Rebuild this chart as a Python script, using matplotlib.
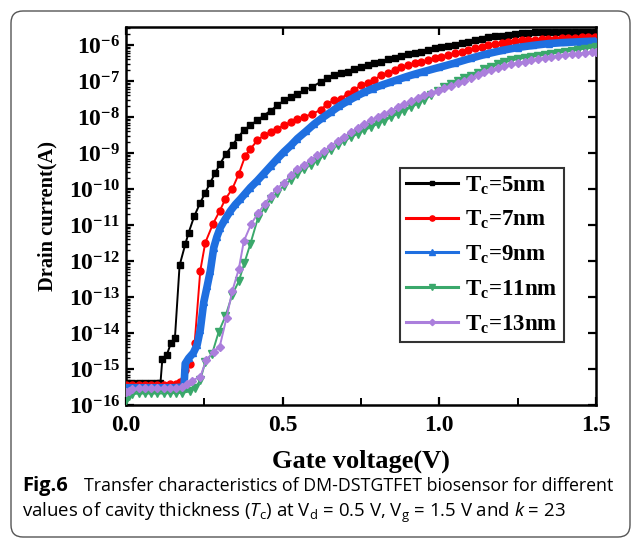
import numpy as np
import matplotlib
matplotlib.use("Agg")
import matplotlib.pyplot as plt
from matplotlib.lines import Line2D
from matplotlib.patches import FancyBboxPatch
from matplotlib.transforms import IdentityTransform
from matplotlib.ticker import LogLocator, MultipleLocator

plt.rcParams['font.family'] = ['Liberation Serif', 'DejaVu Serif']
plt.rcParams['font.weight'] = 'bold'
plt.rcParams['mathtext.fontset'] = 'custom'
plt.rcParams['mathtext.rm'] = 'Liberation Serif:bold'
plt.rcParams['mathtext.bf'] = 'Liberation Serif:bold'
plt.rcParams['mathtext.it'] = 'Open Sans:style=italic:weight=normal'
plt.rcParams['mathtext.sf'] = 'Open Sans:weight=normal'

# gate voltage (V) and log10 of drain current (A)
v_5 = [0.00, 0.02, 0.04, 0.06, 0.08, 0.10, 0.110, 0.116, 0.130, 0.143, 0.156, 0.171, 0.189,
       0.200, 0.218, 0.237, 0.253, 0.269, 0.285, 0.300, 0.318, 0.340, 0.358, 0.376, 0.397,
       0.419, 0.440, 0.462, 0.483, 0.504, 0.526, 0.547, 0.568, 0.595, 0.622, 0.643, 0.665,
       0.686, 0.707, 0.729, 0.750, 0.771, 0.793, 0.814, 0.836, 0.857, 0.878, 0.900, 0.921,
       0.942, 0.964, 0.985, 1.006, 1.028, 1.049, 1.071, 1.092, 1.113, 1.135, 1.156, 1.177,
       1.199, 1.220, 1.241, 1.263, 1.284, 1.305, 1.327, 1.348, 1.370, 1.391, 1.412, 1.434,
       1.455, 1.476, 1.497]
i_5 = [-15.40, -15.40, -15.40, -15.40, -15.40, -15.39, -15.38, -14.72, -14.61, -14.29, -14.15,
       -12.12, -11.54, -11.21, -10.75, -10.38, -10.10, -9.82, -9.55, -9.30, -9.04, -8.78,
       -8.56, -8.37, -8.23, -8.09, -7.96, -7.82, -7.68, -7.54, -7.44, -7.35, -7.26, -7.16,
       -7.02, -6.93, -6.84, -6.77, -6.74, -6.68, -6.61, -6.56, -6.51, -6.46, -6.40, -6.35,
       -6.30, -6.25, -6.22, -6.19, -6.13, -6.09, -6.06, -6.03, -5.99, -5.95, -5.91, -5.86,
       -5.82, -5.79, -5.76, -5.74, -5.71, -5.69, -5.67, -5.66, -5.65, -5.65, -5.64, -5.64,
       -5.64, -5.64, -5.64, -5.64, -5.64, -5.64]

v_7 = [0.00, 0.02, 0.04, 0.06, 0.08, 0.10, 0.12, 0.14, 0.16, 0.173, 0.187, 0.203, 0.219,
       0.237, 0.253, 0.278, 0.299, 0.317, 0.339, 0.360, 0.381, 0.397, 0.419, 0.440, 0.462,
       0.483, 0.504, 0.526, 0.547, 0.568, 0.595, 0.622, 0.643, 0.665, 0.686, 0.707, 0.729,
       0.750, 0.771, 0.793, 0.814, 0.836, 0.857, 0.878, 0.900, 0.921, 0.942, 0.964, 0.985,
       1.006, 1.028, 1.049, 1.071, 1.092, 1.113, 1.135, 1.156, 1.177, 1.199, 1.220, 1.241,
       1.263, 1.284, 1.305, 1.327, 1.348, 1.370, 1.391, 1.412, 1.434, 1.455, 1.476, 1.498]
i_7 = [-15.45, -15.45, -15.45, -15.45, -15.45, -15.45, -15.44, -15.43, -15.42, -15.36, -15.03,
       -14.85, -14.29, -12.27, -11.49, -10.96, -10.61, -10.28, -10.00, -9.58, -9.07, -8.89,
       -8.65, -8.51, -8.42, -8.33, -8.23, -8.14, -8.05, -8.00, -7.91, -7.80, -7.63, -7.54,
       -7.49, -7.35, -7.24, -7.12, -7.05, -6.96, -6.84, -6.79, -6.70, -6.61, -6.56, -6.51,
       -6.47, -6.42, -6.37, -6.32, -6.28, -6.23, -6.19, -6.14, -6.09, -6.05, -6.00, -5.97,
       -5.94, -5.91, -5.89, -5.87, -5.86, -5.85, -5.83, -5.82, -5.82, -5.81, -5.80, -5.80,
       -5.79, -5.79, -5.78]

v_9 = [0.00, 0.03, 0.06, 0.09, 0.12, 0.15, 0.185, 0.189, 0.200, 0.215, 0.227, 0.237, 0.248,
       0.259, 0.269, 0.280, 0.290, 0.301, 0.317, 0.333, 0.349, 0.365, 0.381, 0.397, 0.419,
       0.440, 0.462, 0.483, 0.504, 0.526, 0.547, 0.574, 0.600, 0.627, 0.654, 0.680, 0.707,
       0.734, 0.761, 0.787, 0.814, 0.841, 0.868, 0.895, 0.921, 0.950, 1.000, 1.050, 1.100,
       1.150, 1.200, 1.250, 1.300, 1.350, 1.400, 1.450, 1.500]
i_9 = [-15.52, -15.52, -15.52, -15.52, -15.52, -15.52, -15.50, -14.85, -14.70, -14.55, -14.33,
       -13.91, -13.15, -12.70, -12.28, -11.63, -11.33, -11.07, -10.83, -10.61, -10.43, -10.28,
       -10.12, -9.96, -9.77, -9.57, -9.36, -9.16, -8.97, -8.79, -8.60, -8.40, -8.20, -8.02,
       -7.86, -7.70, -7.56, -7.43, -7.31, -7.21, -7.12, -7.04, -6.96, -6.88, -6.81, -6.74,
       -6.62, -6.50, -6.37, -6.25, -6.15, -6.07, -6.01, -5.96, -5.93, -5.91, -5.89]

v_11 = [0.00, 0.01, 0.02, 0.04, 0.06, 0.08, 0.10, 0.12, 0.14, 0.16, 0.18, 0.205, 0.221, 0.237,
        0.253, 0.275, 0.296, 0.317, 0.339, 0.360, 0.378, 0.397, 0.421, 0.442, 0.462, 0.483,
        0.504, 0.525, 0.547, 0.568, 0.590, 0.611, 0.632, 0.654, 0.675, 0.696, 0.718, 0.739,
        0.760, 0.782, 0.803, 0.824, 0.846, 0.867, 0.888, 0.910, 0.931, 0.952, 0.974, 0.995,
        1.016, 1.038, 1.059, 1.080, 1.102, 1.123, 1.144, 1.166, 1.187, 1.208, 1.230, 1.251,
        1.272, 1.294, 1.315, 1.336, 1.358, 1.379, 1.400, 1.422, 1.443, 1.464, 1.486, 1.500]
i_11 = [-15.86, -15.75, -15.70, -15.68, -15.68, -15.68, -15.68, -15.68, -15.67, -15.67, -15.66,
        -15.62, -15.52, -15.31, -14.80, -14.57, -13.96, -13.54, -12.94, -12.56, -12.05, -11.52,
        -10.81, -10.52, -10.28, -10.10, -9.91, -9.75, -9.58, -9.44, -9.33, -9.21, -9.06, -8.92,
        -8.79, -8.67, -8.56, -8.47, -8.37, -8.28, -8.19, -8.10, -8.01, -7.91, -7.82, -7.73,
        -7.63, -7.52, -7.40, -7.27, -7.17, -7.08, -7.00, -6.93, -6.85, -6.77, -6.68, -6.61,
        -6.54, -6.48, -6.43, -6.39, -6.36, -6.33, -6.30, -6.27, -6.24, -6.21, -6.19, -6.16,
        -6.13, -6.10, -6.08, -6.06]

v_13 = [0.00, 0.01, 0.02, 0.04, 0.06, 0.08, 0.10, 0.12, 0.14, 0.16, 0.18, 0.195, 0.210, 0.237,
        0.256, 0.280, 0.299, 0.321, 0.339, 0.360, 0.376, 0.400, 0.421, 0.442, 0.462, 0.481,
        0.504, 0.525, 0.547, 0.568, 0.590, 0.611, 0.632, 0.654, 0.675, 0.696, 0.718, 0.739,
        0.760, 0.782, 0.803, 0.824, 0.846, 0.867, 0.888, 0.910, 0.931, 0.952, 0.974, 0.995,
        1.016, 1.038, 1.059, 1.080, 1.102, 1.123, 1.144, 1.166, 1.187, 1.208, 1.230, 1.251,
        1.272, 1.294, 1.315, 1.336, 1.358, 1.379, 1.400, 1.422, 1.443, 1.464, 1.486, 1.500]
i_13 = [-15.65, -15.60, -15.56, -15.54, -15.54, -15.54, -15.54, -15.53, -15.53, -15.52, -15.50,
        -15.42, -15.32, -15.22, -14.75, -14.52, -14.38, -13.57, -12.84, -12.22, -11.45, -10.96,
        -10.68, -10.42, -10.19, -10.00, -9.82, -9.62, -9.45, -9.32, -9.20, -9.06, -8.94, -8.80,
        -8.67, -8.55, -8.42, -8.30, -8.19, -8.09, -8.00, -7.91, -7.82, -7.73, -7.64, -7.55,
        -7.47, -7.40, -7.33, -7.27, -7.20, -7.13, -7.06, -6.99, -6.92, -6.84, -6.76, -6.70,
        -6.64, -6.59, -6.54, -6.50, -6.46, -6.42, -6.39, -6.36, -6.33, -6.30, -6.28, -6.26,
        -6.24, -6.22, -6.20, -6.19]

labels = ['T$_\\mathbf{c}$=5nm', 'T$_\\mathbf{c}$=7nm', 'T$_\\mathbf{c}$=9nm',
          'T$_\\mathbf{c}$=11nm', 'T$_\\mathbf{c}$=13nm']
colors = ['#000000', '#ff0000', '#1f6fe0', '#3aa86b', '#ab7fdc']
markers = ['s', 'o', '^', 'v', 'D']
msizes = [4.3, 5.0, 5.0, 5.2, 4.3]
series = [(v_5, i_5), (v_7, i_7), (v_9, i_9), (v_11, i_11), (v_13, i_13)]

fig = plt.figure(figsize=(6.32, 5.38), dpi=100)
ax = fig.add_axes([0.1994, 0.2472, 0.7436, 0.7026])

for k, (v, logi) in enumerate(series):
    cur = 10.0 ** np.array(logi)
    if k == 2:
        # blue curve is so dense in the original that it reads as a thick band
        ax.plot(v, cur, '-', color=colors[k], lw=5.5, zorder=2 + k, solid_capstyle='round')
        ax.plot(v, cur, markers[k], color=colors[k], ms=msizes[k], zorder=2 + k)
    else:
        ax.plot(v, cur, '-', color=colors[k], lw=1.4, marker=markers[k], ms=msizes[k],
                mec=colors[k], zorder=2 + k)

ax.set_yscale('log')
ax.set_xlim(0, 1.5)
ax.set_ylim(1e-16, 10 ** -5.5)

ax.xaxis.set_major_locator(MultipleLocator(0.5))
ax.xaxis.set_minor_locator(MultipleLocator(0.25))
ax.yaxis.set_major_locator(LogLocator(base=10, numticks=30))
ax.yaxis.set_minor_locator(LogLocator(base=10, subs=np.arange(2, 10), numticks=100))
ax.xaxis.set_major_formatter(plt.FuncFormatter(lambda x, p: '%.1f' % x))

ax.tick_params(which='major', direction='in', length=6, width=1.6, top=True, right=True,
               labelsize=17, pad=4)
ax.tick_params(axis='x', which='major', pad=7)
ax.tick_params(axis='y', which='minor', direction='in', length=3, width=1.0, right=False)
ax.tick_params(axis='x', which='minor', direction='in', length=5, width=1.4, top=False)
for sp in ax.spines.values():
    sp.set_linewidth(1.8)

ax.set_xlabel('Gate voltage(V)', fontsize=19, fontweight='bold', labelpad=10)
ax.set_ylabel('Drain current(A)', fontsize=14.7, fontweight='bold', labelpad=8)

handles = [Line2D([], [], color=c, lw=2.2, marker=m, ms=s * 0.75, mec=c)
           for c, m, s in zip(colors, markers, msizes)]
leg = ax.legend(handles, labels, loc='upper left', bbox_to_anchor=(0.583, 0.627),
                borderaxespad=0, fontsize=16.5, frameon=True, fancybox=False,
                edgecolor='black', handlelength=2.3, handletextpad=0.3,
                labelspacing=0.52, borderpad=0.25)
leg.get_frame().set_linewidth(1.5)
leg.set_zorder(20)

# rounded frame around the figure + caption
frame = FancyBboxPatch((11, 1), 619, 526, boxstyle='round,pad=0,rounding_size=12',
                       transform=IdentityTransform(), fill=False, edgecolor='#555555',
                       lw=1.0, figure=fig)
fig.patches.append(frame)

cap_kw = dict(family='Open Sans', fontweight='normal', va='baseline')
fig.text(22 / 632, 1 - 491 / 538, 'Fig.6', fontsize=14.5, **dict(cap_kw, fontweight='bold'))
fig.text(84 / 632, 1 - 491 / 538,
         'Transfer characteristics of DM-DSTGTFET biosensor for different',
         fontsize=12.8, **cap_kw)
fig.text(22 / 632, 1 - 517 / 538,
         'values of cavity thickness ($\\mathit{T}_{\\mathsf{c}}$) at V$_{\\mathsf{d}}$ = 0.5 V, '
         'V$_{\\mathsf{g}}$ = 1.5 V and $\\mathit{k}$ = 23', fontsize=13.4, **cap_kw)

fig.savefig('out.png', dpi=100)
